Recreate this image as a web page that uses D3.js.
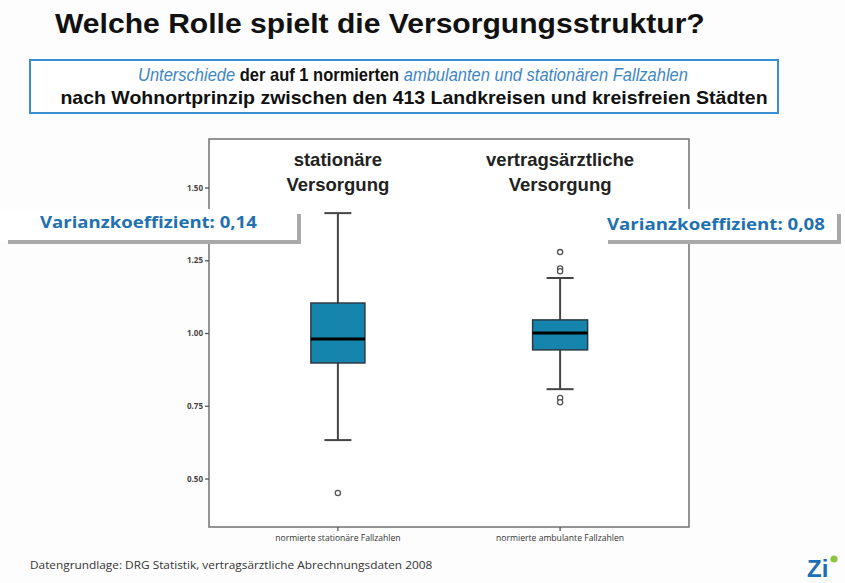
<!DOCTYPE html>
<html><head><meta charset="utf-8">
<script src="https://cdn.jsdelivr.net/npm/d3@7"></script>
<style>body{margin:0;background:#fdfdfd}svg{display:block}</style>
</head><body><svg id="c" width="845" height="583"></svg>
<script>
const categories = ["normierte stationäre Fallzahlen", "normierte ambulante Fallzahlen"];
const groupTitles = [["stationäre", "Versorgung"], ["vertragsärztliche", "Versorgung"]];
const q1 = [0.897, 0.942];
const median = [0.979, 1.0];
const q3 = [1.103, 1.045];
const whiskerLow = [0.632, 0.807];
const whiskerHigh = [1.412, 1.189];
const outliers = [[0.45], [1.278, 1.222, 1.212, 0.777, 0.762]];
const yTicks = [0.5, 0.75, 1.0, 1.25, 1.5];
const cvLabels = ["Varianzkoeffizient: 0,14", "Varianzkoeffizient: 0,08"];

const svg = d3.select("#c");
const L = 209, R = 689, T = 139, B = 527;

const y = d3.scaleLinear().domain([0.3333, 1.6667]).range([B, T]);
const x = d3.scaleBand().domain(categories).range([L, R]).paddingInner(0.1).paddingOuter(0.13);

// scale a text horizontally so that it spans width w, anchored at its (x, y)
function fit(t, w) {
  const len = t.node().getComputedTextLength();
  const ax = +t.attr("x"), ay = +t.attr("y");
  const s = w / len;
  t.attr("transform", `translate(${ax},${ay}) scale(${s},1) translate(${-ax},${-ay})`);
}

// title
const title = svg.append("text").attr("x", 55).attr("y", 33).attr("font-family", "Liberation Sans, Arial, sans-serif")
  .attr("font-weight", "bold").attr("font-size", 27).attr("fill", "#111").text("Welche Rolle spielt die Versorgungsstruktur?");
fit(title, 650);

// subtitle box
svg.append("rect").attr("x", 30).attr("y", 60).attr("width", 748).attr("height", 53)
  .attr("fill", "#fff").attr("stroke", "#3b8fd0").attr("stroke-width", 2);
const sub1 = svg.append("text").attr("text-anchor", "middle").attr("x", 413).attr("y", 81)
  .attr("font-family", "Liberation Sans, Arial, sans-serif").attr("font-weight", "bold").attr("font-size", 17.5).attr("fill", "#111");
sub1.append("tspan").attr("fill", "#3d86c4").attr("font-style", "italic").attr("font-weight", "normal").text("Unterschiede");
sub1.append("tspan").text(" der auf 1 normierten ");
sub1.append("tspan").attr("fill", "#3d86c4").attr("font-style", "italic").attr("font-weight", "normal").text("ambulanten und stationären Fallzahlen");
fit(sub1, 550);
const sub2 = svg.append("text").attr("text-anchor", "middle").attr("x", 414).attr("y", 104)
  .attr("font-family", "Liberation Sans, Arial, sans-serif").attr("font-weight", "bold").attr("font-size", 17.5).attr("fill", "#111")
  .text("nach Wohnortprinzip zwischen den 413 Landkreisen und kreisfreien Städten");
fit(sub2, 708);

// plot area
svg.append("rect").attr("x", L).attr("y", T).attr("width", R - L).attr("height", B - T)
  .attr("fill", "#fff").attr("stroke", "#7a7a7a").attr("stroke-width", 1.6);

// y axis
const ya = svg.append("g").attr("transform", `translate(${L},0)`)
  .call(d3.axisLeft(y).tickValues(yTicks).tickFormat(d3.format(".2f")).tickSize(4).tickPadding(2));
ya.select(".domain").remove();
ya.selectAll("line").attr("stroke", "#555").attr("stroke-width", 1.3);
ya.selectAll("text").attr("font-family", "Open Sans, DejaVu Sans, sans-serif").attr("font-size", 8).attr("fill", "#444").attr("font-weight", "bold");

// x axis
const xa = svg.append("g").attr("transform", `translate(0,${B})`)
  .call(d3.axisBottom(x).tickSize(4).tickPadding(4));
xa.select(".domain").remove();
xa.selectAll("line").attr("stroke", "#555").attr("stroke-width", 1.3);
xa.selectAll("text").attr("font-family", "Open Sans, DejaVu Sans, sans-serif").attr("font-size", 8.6).attr("fill", "#333");

// group titles
groupTitles.forEach((g, i) => {
  const cx = x(categories[i]) + x.bandwidth() / 2;
  g.forEach((t, j) => {
    svg.append("text").attr("x", cx).attr("y", 166 + j * 25).attr("text-anchor", "middle")
      .attr("font-family", "Liberation Sans, Arial, sans-serif").attr("font-weight", "bold").attr("font-size", 18.5).attr("fill", "#222").text(t);
  });
});

// boxes
const bw = [54, 55], cw = 27;
categories.forEach((c, i) => {
  const cx = x(c) + x.bandwidth() / 2;
  const g = svg.append("g");
  g.append("line").attr("x1", cx).attr("x2", cx).attr("y1", y(whiskerHigh[i])).attr("y2", y(whiskerLow[i])).attr("stroke", "#444").attr("stroke-width", 2);
  [whiskerHigh[i], whiskerLow[i]].forEach(v => g.append("line").attr("x1", cx - cw / 2).attr("x2", cx + cw / 2).attr("y1", y(v)).attr("y2", y(v)).attr("stroke", "#444").attr("stroke-width", 2));
  g.append("rect").attr("x", cx - bw[i] / 2).attr("width", bw[i]).attr("y", y(q3[i])).attr("height", y(q1[i]) - y(q3[i]))
    .attr("fill", "#1685ad").attr("stroke", "#2a3a44").attr("stroke-width", 1.5);
  g.append("line").attr("x1", cx - bw[i] / 2).attr("x2", cx + bw[i] / 2).attr("y1", y(median[i])).attr("y2", y(median[i])).attr("stroke", "#000").attr("stroke-width", 3);
  outliers[i].forEach(v => g.append("circle").attr("cx", cx).attr("cy", y(v)).attr("r", 2.6).attr("fill", "#fff").attr("stroke", "#555").attr("stroke-width", 1.3));
});

// CV labels
const labs = [{x0: 0, x1: 301, ty: 228, tx: 40, w: 217}, {x0: 600, x1: 841, ty: 230, tx: 607, w: 218}];
labs.forEach((b, i) => {
  svg.append("rect").attr("x", b.x0).attr("y", 209).attr("width", b.x1 - b.x0).attr("height", 32).attr("fill", "#fff");
  svg.append("rect").attr("x", b.x0 + 8).attr("y", 240).attr("width", b.x1 - b.x0 - 8).attr("height", 4).attr("fill", "#a9a9a9");
  svg.append("rect").attr("x", b.x1 - 4).attr("y", 214).attr("width", 4).attr("height", 30).attr("fill", "#a9a9a9");
  const t = svg.append("text").attr("x", b.tx).attr("y", b.ty).attr("font-family", "Open Sans, DejaVu Sans, sans-serif").attr("font-weight", "bold")
    .attr("font-size", 16.5).attr("fill", "#2170b0").text(cvLabels[i]);
  fit(t, b.w);
});

// footer
const ft = svg.append("text").attr("x", 30).attr("y", 569).attr("font-family", "Open Sans, DejaVu Sans, sans-serif").attr("font-size", 11.5).attr("fill", "#333")
  .text("Datengrundlage: DRG Statistik, vertragsärztliche Abrechnungsdaten 2008");
fit(ft, 403);

// logo
svg.append("text").attr("x", 807).attr("y", 577).attr("font-family", "Liberation Sans, Arial, sans-serif").attr("font-weight", "bold")
  .attr("font-size", 24).attr("fill", "#1b6fb5").text("Zi");
svg.append("circle").attr("cx", 834).attr("cy", 559).attr("r", 3.6).attr("fill", "#8cc63f");
</script></body></html>
